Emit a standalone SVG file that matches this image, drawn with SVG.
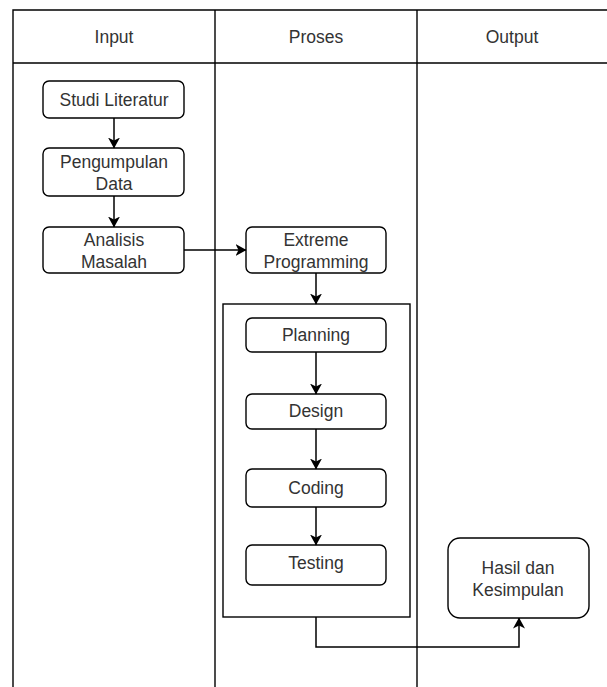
<svg xmlns="http://www.w3.org/2000/svg" width="607" height="687" viewBox="0 0 607 687">
<defs>
<marker id="arr" viewBox="0 0 11 12" refX="10.5" refY="6" markerWidth="11" markerHeight="12" markerUnits="userSpaceOnUse" orient="auto">
<path d="M0,0 L11,6 L0,12 L3,6 Z" fill="#000"/>
</marker>
<style>
.lane{fill:none;stroke:#000;stroke-width:1.4}
.box{fill:#fff;stroke:#000;stroke-width:1.4}
.t{font-family:"Liberation Sans",Arial,sans-serif;font-size:17.5px;fill:#333;text-anchor:middle}
.c{fill:none;stroke:#000;stroke-width:1.5}
</style>
</defs>
<rect width="607" height="687" fill="#fff"/>
<g id="lanes">
<path class="lane" d="M13,687 V10 H608 M13,63 H608 M215,10 V687 M417,10 V687"/>
<text class="t" x="114" y="43">Input</text>
<text class="t" x="316" y="43">Proses</text>
<text class="t" x="512" y="43">Output</text>
</g>
<g id="container"><rect class="lane" x="223" y="304" width="187" height="313"/></g>
<g id="studi"><rect class="box" x="43" y="81" width="141" height="37" rx="6"/><text class="t" x="114" y="105.5">Studi Literatur</text></g>
<g id="pengumpulan"><rect class="box" x="43" y="148" width="141" height="48" rx="6"/><text class="t" x="114" y="167.5">Pengumpulan</text><text class="t" x="114" y="189.5">Data</text></g>
<g id="analisis"><rect class="box" x="43" y="227" width="141" height="46" rx="6"/><text class="t" x="114" y="245.5">Analisis</text><text class="t" x="114" y="267.5">Masalah</text></g>
<g id="extreme"><rect class="box" x="246" y="227" width="140" height="46" rx="6"/><text class="t" x="316" y="245.5">Extreme</text><text class="t" x="316" y="267.5">Programming</text></g>
<g id="planning"><rect class="box" x="246" y="318" width="140" height="34" rx="6"/><text class="t" x="316" y="340.5">Planning</text></g>
<g id="design"><rect class="box" x="246" y="394" width="140" height="35" rx="6"/><text class="t" x="316" y="417">Design</text></g>
<g id="coding"><rect class="box" x="246" y="469" width="140" height="38" rx="6"/><text class="t" x="316" y="493.5">Coding</text></g>
<g id="testing"><rect class="box" x="246" y="545" width="140" height="40" rx="6"/><text class="t" x="316" y="569">Testing</text></g>
<g id="hasil"><rect class="box" x="448" y="538" width="141" height="80" rx="12"/><text class="t" x="518" y="573.5">Hasil dan</text><text class="t" x="518" y="596">Kesimpulan</text></g>
<g id="connectors">
<path class="c" d="M114,118 V148" marker-end="url(#arr)"/>
<path class="c" d="M114,196 V227" marker-end="url(#arr)"/>
<path class="c" d="M184,250 H246" marker-end="url(#arr)"/>
<path class="c" d="M316,273 V304" marker-end="url(#arr)"/>
<path class="c" d="M316,352 V394" marker-end="url(#arr)"/>
<path class="c" d="M316,429 V469" marker-end="url(#arr)"/>
<path class="c" d="M316,507 V545" marker-end="url(#arr)"/>
<path class="c" d="M316,617 V647 H519 V618" marker-end="url(#arr)"/>
</g>
</svg>
